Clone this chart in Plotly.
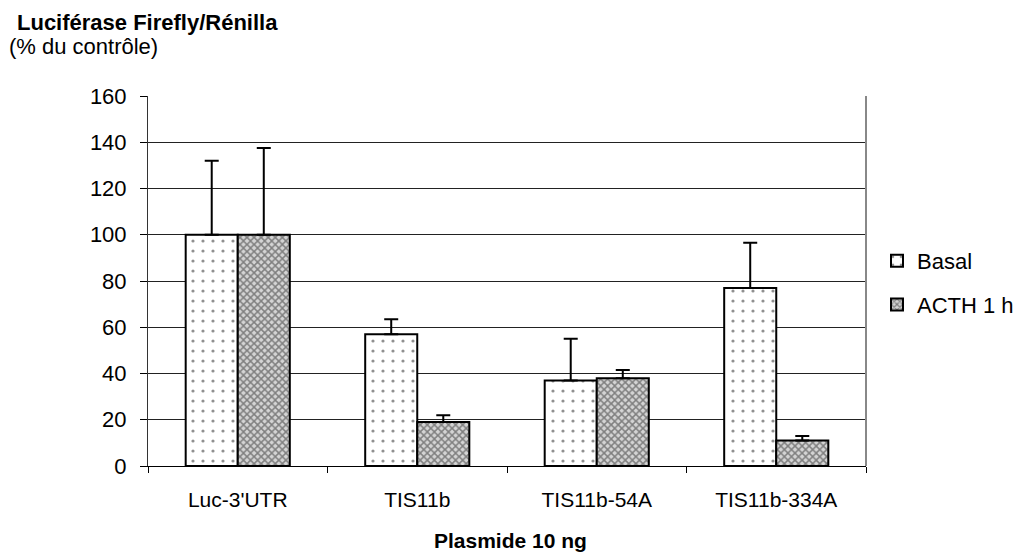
import plotly.graph_objects as go

categories = ["Luc-3'UTR", "TIS11b", "TIS11b-54A", "TIS11b-334A"]
basal = [100, 57, 37, 77]
basal_err = [32, 6.5, 18, 19.5]
acth = [100, 19, 38, 11]
acth_err = [37.5, 3, 3.5, 2]
y_ticks = [0, 20, 40, 60, 80, 100, 120, 140, 160]

FONT = "Liberation Sans, Arial, sans-serif"
L, R, T, B = 148, 158, 96, 87
PW, PH = 1024 - L - R, 553 - T - B

fig = go.Figure()
fig.add_trace(go.Bar(
    x=categories, y=basal, name="Basal", legendgroup="a",
    marker=dict(color="white", line=dict(color="black", width=2),
                pattern=dict(shape=".", fgcolor="#222222", bgcolor="white",
                             size=10, solidity=0.08)),
    error_y=dict(type="data", array=basal_err, arrayminus=[0]*4, symmetric=False,
                 color="black", thickness=2, width=7),
))
fig.add_trace(go.Bar(
    x=categories, y=acth, name="ACTH 1 h", legendgroup="b",
    marker=dict(color="white", line=dict(color="black", width=2),
                pattern=dict(shape="x", fgcolor="#2a2a2a", bgcolor="#d4d4d4",
                             size=5, solidity=0.5)),
    error_y=dict(type="data", array=acth_err, arrayminus=[0]*4, symmetric=False,
                 color="black", thickness=2, width=7),
))

fig.update_layout(
    width=1024, height=553,
    paper_bgcolor="white", plot_bgcolor="white",
    margin=dict(l=L, r=R, t=T, b=B, autoexpand=False),
    barmode="group", bargap=0.42, bargroupgap=0,
    font=dict(family=FONT, size=22, color="black"),
    showlegend=True,
    legend=dict(x=(877 - L) / PW, y=(466 - 283) / PH, xanchor="left", yanchor="middle",
                font=dict(size=22), tracegroupgap=12,
                traceorder="grouped", bgcolor="rgba(0,0,0,0)"),
    xaxis=dict(type="category", tickson="boundaries", ticks="outside", ticklen=6,
               tickcolor="black", showline=True, linecolor="black", linewidth=1,
               tickfont=dict(size=21), showgrid=False, ticklabelstandoff=15),
    yaxis=dict(range=[0, 160], tickvals=y_ticks, ticks="outside", ticklen=7,
               tickcolor="black", showline=True, linecolor="#333333", linewidth=1,
               showgrid=True, gridcolor="#222222", gridwidth=1,
               tickfont=dict(size=22), zeroline=False, ticklabelstandoff=9),
)

# right border of plot area
fig.add_shape(type="line", xref="paper", yref="paper", x0=1, x1=1, y0=0, y1=1,
              line=dict(color="#888888", width=2))

fig.add_annotation(text="<b>Luciférase Firefly/Rénilla</b>", xref="paper", yref="paper",
                   x=(15 - L) / PW, y=(466 - 22) / PH, xanchor="left", yanchor="middle",
                   showarrow=False, font=dict(size=22))
fig.add_annotation(text="(% du contrôle)", xref="paper", yref="paper",
                   x=(7 - L) / PW, y=(466 - 46) / PH, xanchor="left", yanchor="middle",
                   showarrow=False, font=dict(size=22))
fig.add_annotation(text="<b>Plasmide 10 ng</b>", xref="paper", yref="paper",
                   x=(510 - L) / PW, y=(466 - 540) / PH, xanchor="center", yanchor="middle",
                   showarrow=False, font=dict(size=21))

fig.write_html("out.html", config={"displayModeBar": False},
               post_script="document.body.style.margin='0';")
